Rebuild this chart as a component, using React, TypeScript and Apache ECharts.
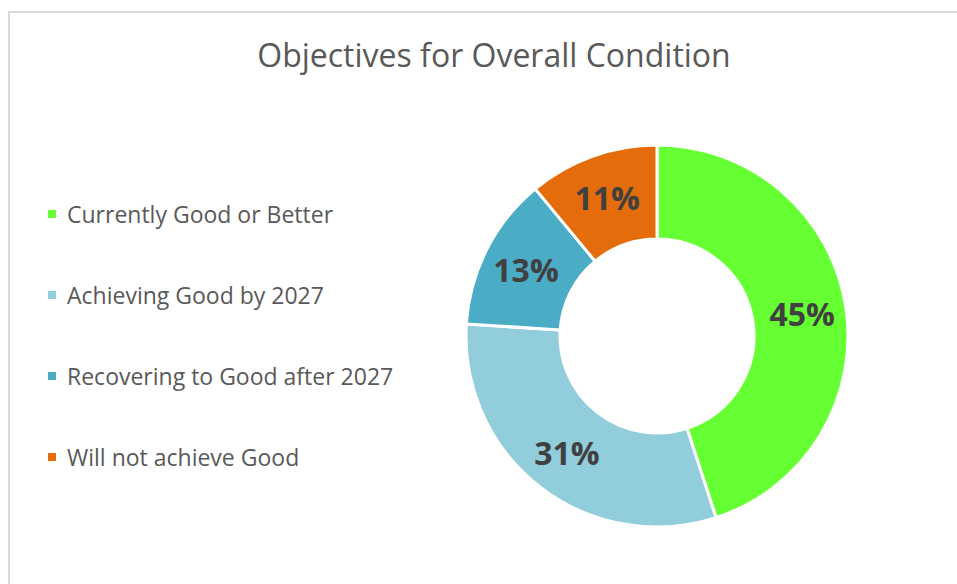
import React, { useEffect, useRef } from "react";
import * as echarts from "echarts";

const titleText = "Objectives for Overall Condition";
const categories = [
  "Currently Good or Better",
  "Achieving Good by 2027",
  "Recovering to Good after 2027",
  "Will not achieve Good",
];
const values = [45, 31, 13, 11];
const colors = ["#66FF33", "#92CDDC", "#4BACC6", "#E46C0A"];

export default function App() {
  const ref = useRef<HTMLDivElement>(null);
  useEffect(() => {
    document.body.style.margin = "0";
    const chart = echarts.init(ref.current!, null, { renderer: "svg" });
    chart.setOption({
      animation: false,
      backgroundColor: "#ffffff",
      title: {
        text: titleText,
        left: 489,
        top: 33,
        textAlign: "center",
        textStyle: {
          fontFamily: "Open Sans",
          fontSize: 32,
          fontWeight: "normal",
          color: "#595959",
        },
      },
      legend: {
        orient: "vertical",
        left: 41,
        top: 197,
        itemWidth: 10,
        itemHeight: 10,
        itemGap: 57,
        icon: "rect",
        data: categories,
        textStyle: {
          fontFamily: "Open Sans",
          fontSize: 23,
          lineHeight: 24,
          color: "#595959",
          padding: [0, 0, 0, 5],
        },
      },
      graphic: [
        {
          type: "rect",
          shape: { x: 9, y: 12, width: 1200, height: 1000 },
          style: { fill: "none", stroke: "#d9d9d9", lineWidth: 2 },
          silent: true,
          z: -1,
        },
      ],
      series: [
        {
          type: "pie",
          center: [657, 336],
          radius: [97, 191],
          startAngle: 90,
          clockwise: true,
          avoidLabelOverlap: false,
          itemStyle: { borderColor: "#ffffff", borderWidth: 3 },
          label: {
            show: true,
            position: "inside",
            formatter: (p: any) => p.value + "%",
            fontFamily: "Open Sans",
            fontWeight: "bold",
            fontSize: 32,
            color: "#404040",
          },
          labelLine: { show: false },
          data: categories.map((c, i) => ({
            name: c,
            value: values[i],
            itemStyle: { color: colors[i] },
          })),
        },
      ],
    });
    return () => chart.dispose();
  }, []);
  return <div ref={ref} style={{ width: 957, height: 584 }} />;
}
